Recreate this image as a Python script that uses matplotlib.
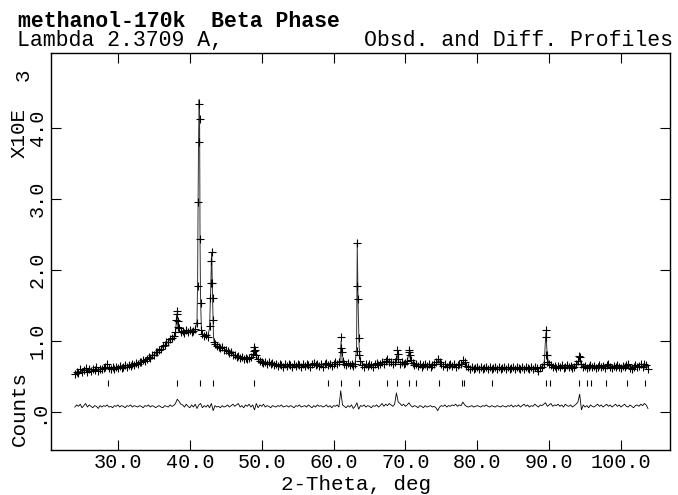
import numpy as np
import matplotlib
matplotlib.use("Agg")
import matplotlib.pyplot as plt

two_theta = np.arange(24.0, 103.76, 0.25)
obs_grid = [
    0.53, 0.57, 0.55, 0.60, 0.56, 0.59, 0.62, 0.57, 0.60, 0.58, 0.61, 0.59, 0.63, 0.58, 0.61, 0.60, 0.62, 0.64, 0.68, 0.62,
    0.60, 0.63, 0.61, 0.64, 0.62, 0.65, 0.62, 0.64, 0.66, 0.63, 0.66, 0.65, 0.68, 0.66, 0.69, 0.68, 0.71, 0.70, 0.73, 0.72,
    0.75, 0.77, 0.76, 0.80, 0.81, 0.84, 0.85, 0.88, 0.89, 0.93, 0.94, 0.98, 0.99, 1.03, 1.04, 1.07, 1.12, 1.38, 1.18, 1.12,
    1.14, 1.11, 1.15, 1.13, 1.16, 1.12, 1.14, 1.17, 1.26, 3.80, 1.53, 1.10, 1.07, 1.09, 1.06, 1.21, 2.13, 1.30, 0.96, 0.93,
    0.92, 0.90, 0.91, 0.88, 0.87, 0.86, 0.83, 0.84, 0.80, 0.81, 0.78, 0.79, 0.76, 0.77, 0.74, 0.76, 0.74, 0.76, 0.77, 0.82,
    0.92, 0.80, 0.74, 0.72, 0.71, 0.69, 0.71, 0.68, 0.70, 0.67, 0.69, 0.66, 0.68, 0.65, 0.68, 0.66, 0.64, 0.67, 0.65, 0.68,
    0.66, 0.64, 0.67, 0.65, 0.68, 0.66, 0.64, 0.67, 0.65, 0.68, 0.66, 0.64, 0.67, 0.69, 0.66, 0.68, 0.65, 0.67, 0.64, 0.67,
    0.69, 0.66, 0.68, 0.65, 0.67, 0.70, 0.67, 0.71, 0.90, 0.72, 0.68, 0.66, 0.69, 0.66, 0.68, 0.65, 0.67, 1.78, 1.04, 0.72,
    0.66, 0.64, 0.67, 0.65, 0.68, 0.66, 0.64, 0.67, 0.69, 0.66, 0.68, 0.70, 0.68, 0.72, 0.74, 0.70, 0.71, 0.67, 0.70, 0.74,
    0.74, 0.68, 0.70, 0.67, 0.69, 0.72, 0.85, 0.73, 0.69, 0.66, 0.68, 0.65, 0.67, 0.64, 0.66, 0.68, 0.65, 0.67, 0.64, 0.66,
    0.68, 0.70, 0.75, 0.70, 0.67, 0.65, 0.67, 0.64, 0.66, 0.68, 0.65, 0.67, 0.64, 0.66, 0.68, 0.67, 0.73, 0.70, 0.65, 0.63,
    0.61, 0.63, 0.60, 0.62, 0.64, 0.61, 0.63, 0.60, 0.62, 0.64, 0.61, 0.63, 0.60, 0.62, 0.64, 0.61, 0.63, 0.60, 0.62, 0.64,
    0.61, 0.63, 0.60, 0.62, 0.64, 0.61, 0.63, 0.62, 0.60, 0.63, 0.61, 0.64, 0.62, 0.60, 0.63, 0.61, 0.64, 0.62, 0.58, 0.62,
    0.64, 0.68, 0.81, 0.70, 0.68, 0.66, 0.63, 0.65, 0.62, 0.65, 0.63, 0.66, 0.62, 0.64, 0.66, 0.63, 0.65, 0.62, 0.64, 0.68,
    0.72, 0.77, 0.68, 0.63, 0.65, 0.62, 0.64, 0.66, 0.63, 0.65, 0.62, 0.64, 0.66, 0.63, 0.65, 0.62, 0.66, 0.68, 0.64, 0.62,
    0.65, 0.63, 0.66, 0.64, 0.62, 0.65, 0.63, 0.66, 0.68, 0.62, 0.60, 0.64, 0.66, 0.63, 0.65, 0.67, 0.64, 0.68, 0.66, 0.60,
]

# extra observed points on the sharp peaks
peak_tt = [38.10, 38.18, 38.32, 38.40,
           41.08, 41.15, 41.30, 41.35, 41.42, 41.60,
           42.85, 42.95, 43.05, 43.12, 43.18, 43.32,
           48.90, 49.10,
           61.05, 61.12,
           63.20, 63.30, 63.38, 63.60,
           68.80, 68.90,
           70.55, 70.60,
           89.55, 89.60, 89.68,
           94.18]
peak_obs = [1.30, 1.42, 1.28, 1.20,
            1.77, 2.96, 4.34, 4.12, 2.43, 1.15,
            1.61, 1.82, 2.25, 1.82, 1.61, 0.99,
            0.86, 0.88,
            1.05, 0.84,
            0.86, 2.38, 1.59, 0.81,
            0.87, 0.82,
            0.88, 0.81,
            1.16, 1.05, 0.81,
            0.79]

# calculated profile
calc_tt = [24.0, 26.0, 28.0, 28.6, 29.2, 30.0, 32.0, 33.0, 34.0, 35.0, 36.0, 37.0, 37.75, 38.0, 38.18, 38.35,
           38.6, 39.0, 40.0, 40.75, 41.0, 41.08, 41.15, 41.22, 41.30, 41.36, 41.42, 41.50, 41.62, 41.8, 42.0, 42.5,
           42.75, 42.85, 42.95, 43.02, 43.05, 43.12, 43.2, 43.3, 43.45, 43.75, 44.5, 45.5, 46.5, 47.5, 48.5, 48.85,
           49.0, 49.2, 49.5, 50.5, 52.0, 55.0, 58.0, 60.0, 60.9, 61.05, 61.2, 61.5, 63.0, 63.2, 63.3, 63.4,
           63.55, 63.75, 64.5, 66.5, 67.3, 67.5, 67.8, 68.6, 68.85, 69.1, 70.2, 70.5, 70.75, 71.5, 74.3, 74.6,
           74.9, 77.8, 78.05, 78.3, 79.0, 88.5, 89.3, 89.55, 89.75, 90.0, 91.0, 93.8, 94.2, 94.5, 97.0, 103.8]
calc = [0.56, 0.59, 0.61, 0.63, 0.61, 0.63, 0.66, 0.70, 0.75, 0.81, 0.89, 0.99, 1.06, 1.10, 1.38, 1.20,
        1.13, 1.13, 1.14, 1.16, 1.28, 1.80, 2.95, 3.85, 4.40, 4.10, 2.45, 1.55, 1.15, 1.09, 1.08, 1.07,
        1.18, 1.55, 1.90, 2.20, 2.24, 1.85, 1.45, 1.05, 0.95, 0.93, 0.91, 0.84, 0.79, 0.76, 0.76, 0.82,
        0.92, 0.80, 0.74, 0.70, 0.67, 0.66, 0.66, 0.67, 0.72, 1.00, 0.72, 0.68, 0.68, 0.90, 2.38, 1.60,
        0.95, 0.70, 0.66, 0.67, 0.71, 0.73, 0.70, 0.70, 0.80, 0.70, 0.69, 0.84, 0.71, 0.67, 0.67, 0.74,
        0.67, 0.66, 0.71, 0.66, 0.63, 0.62, 0.66, 1.12, 0.78, 0.66, 0.64, 0.65, 0.76, 0.66, 0.64, 0.64]

# difference curve (obs - calc, drawn with the plot's offset), same 0.25 deg grid
diff = [
    0.07, 0.10, 0.08, 0.11, 0.06, 0.09, 0.12, 0.07, 0.10, 0.08, 0.06, 0.09, 0.08, 0.05, 0.09, 0.07, 0.09, 0.08, 0.10, 0.07,
    0.08, 0.06, 0.09, 0.08, 0.10, 0.07, 0.09, 0.08, 0.06, 0.09, 0.08, 0.10, 0.07, 0.09, 0.08, 0.07, 0.09, 0.08, 0.06, 0.09,
    0.08, 0.10, 0.07, 0.09, 0.08, 0.06, 0.08, 0.09, 0.07, 0.06, 0.09, 0.08, 0.07, 0.10, 0.08, 0.09, 0.12, 0.18, 0.15, 0.11,
    0.10, 0.07, 0.11, 0.08, 0.06, 0.10, 0.07, 0.11, 0.05, 0.10, 0.12, 0.06, 0.09, 0.07, 0.10, 0.06, 0.12, 0.02, 0.09, 0.07,
    0.08, 0.06, 0.09, 0.07, 0.08, 0.10, 0.07, 0.09, 0.11, 0.08, 0.10, 0.12, 0.07, 0.09, 0.06, 0.10, 0.08, 0.11, 0.07, 0.10,
    0.03, 0.12, 0.06, 0.10, 0.08, 0.11, 0.07, 0.09, 0.08, 0.06, 0.09, 0.08, 0.07, 0.09, 0.08, 0.10, 0.07, 0.08, 0.09, 0.07,
    0.09, 0.08, 0.06, 0.09, 0.08, 0.10, 0.07, 0.08, 0.09, 0.07, 0.10, 0.08, 0.06, 0.09, 0.07, 0.10, 0.08, 0.09, 0.07, 0.08,
    0.10, 0.07, 0.09, 0.06, 0.09, 0.08, 0.10, 0.07, 0.30, 0.10, 0.08, 0.06, 0.09, 0.07, 0.10, 0.05, 0.08, 0.13, 0.04, 0.09,
    0.08, 0.10, 0.07, 0.09, 0.08, 0.06, 0.09, 0.08, 0.10, 0.07, 0.09, 0.12, 0.08, 0.11, 0.09, 0.12, 0.10, 0.08, 0.11, 0.27,
    0.14, 0.12, 0.09, 0.11, 0.08, 0.10, 0.13, 0.09, 0.07, 0.09, 0.08, 0.06, 0.09, 0.08, 0.06, 0.09, 0.07, 0.08, 0.09, 0.07,
    0.08, 0.06, 0.02, 0.07, 0.09, 0.08, 0.10, 0.07, 0.09, 0.08, 0.10, 0.09, 0.11, 0.08, 0.10, 0.09, 0.14, 0.10, 0.08, 0.07,
    0.08, 0.09, 0.07, 0.08, 0.09, 0.08, 0.07, 0.09, 0.08, 0.10, 0.08, 0.07, 0.09, 0.08, 0.07, 0.09, 0.08, 0.07, 0.09, 0.08,
    0.07, 0.09, 0.08, 0.10, 0.07, 0.09, 0.08, 0.10, 0.07, 0.09, 0.11, 0.08, 0.10, 0.07, 0.09, 0.08, 0.11, 0.09, 0.07, 0.10,
    0.09, 0.11, 0.13, 0.08, 0.10, 0.12, 0.08, 0.10, 0.09, 0.11, 0.08, 0.10, 0.07, 0.11, 0.09, 0.08, 0.10, 0.07, 0.09, 0.11,
    0.14, 0.25, 0.03, 0.10, 0.07, 0.09, 0.06, 0.10, 0.08, 0.07, 0.09, 0.11, 0.08, 0.10, 0.07, 0.09, 0.11, 0.08, 0.10, 0.07,
    0.09, 0.11, 0.08, 0.10, 0.07, 0.09, 0.11, 0.08, 0.07, 0.10, 0.08, 0.06, 0.09, 0.10, 0.08, 0.11, 0.09, 0.12, 0.10, 0.05,
]

# reflection positions (deg 2-theta)
reflections = [28.65, 38.25, 41.46, 43.22, 48.98, 59.24, 61.05, 63.5, 67.46, 68.85, 70.48, 71.45,
               74.66, 77.83, 78.12, 82.1, 89.6, 90.06, 94.2, 95.27, 95.82, 97.91, 100.83, 103.38]
refl_level = 0.41

x_ticks = [30, 40, 50, 60, 70, 80, 90, 100]
x_ticklabels = ["30.0", "40.0", "50.0", "60.0", "70.0", "80.0", "90.0", "100.0"]
y_ticks = [0, 1, 2, 3, 4]
y_ticklabels = [".0", "1.0", "2.0", "3.0", "4.0"]

plt.rcParams["font.family"] = ["Liberation Mono", "DejaVu Sans Mono"]

fig = plt.figure(figsize=(6.78, 4.95), dpi=100)
ax = fig.add_axes([0.0752, 0.0909, 0.9130, 0.8020])

x_all = np.concatenate([two_theta, peak_tt])
y_all = np.concatenate([obs_grid, peak_obs])
order = np.argsort(x_all)

ax.plot(calc_tt, calc, color="#333333", lw=0.7)
ax.plot(x_all[order], y_all[order], "+", color="black", ms=6, mew=0.8)
ax.plot(two_theta, diff, color="black", lw=0.6)
ax.plot(reflections, [refl_level] * len(reflections), "|", color="black", ms=5, mew=0.8)

ax.set_xlim(20.68, 106.82)
ax.set_ylim(-0.535, 5.056)

ax.set_xticks(x_ticks)
ax.set_xticklabels(x_ticklabels, fontsize=14.5)
ax.set_yticks(y_ticks)
ax.set_yticklabels(y_ticklabels, fontsize=14.5, rotation=90, va="center")
ax.tick_params(direction="in", length=7, width=0.8, top=True, right=True)
ax.tick_params(axis="x", pad=2)
ax.tick_params(axis="y", pad=3)
for s in ax.spines.values():
    s.set_linewidth(1.0)

fig.text(18 / 678, 1 - 27 / 495, "methanol-170k  Beta Phase", fontsize=15.5,
         fontweight="bold", va="baseline", ha="left")
fig.text(17 / 678, 1 - 46 / 495, "Lambda 2.3709 A,", fontsize=15.5, va="baseline", ha="left")
fig.text(673 / 678, 1 - 46 / 495, "Obsd. and Diff. Profiles", fontsize=15.5,
         va="baseline", ha="right")
fig.text(356 / 678, 1 - 484 / 495, "2-Theta, deg", fontsize=15, ha="center", va="center")
fig.text(19 / 678, 1 - 408 / 495, "Counts", fontsize=15, rotation=90, ha="center", va="center")
fig.text(19 / 678, 1 - 133 / 495, "X10E", fontsize=15, rotation=90, ha="center", va="center")
fig.text(23 / 678, 1 - 75 / 495, "3", fontsize=15, rotation=90, ha="center", va="center")

fig.savefig("out.png", dpi=100)
